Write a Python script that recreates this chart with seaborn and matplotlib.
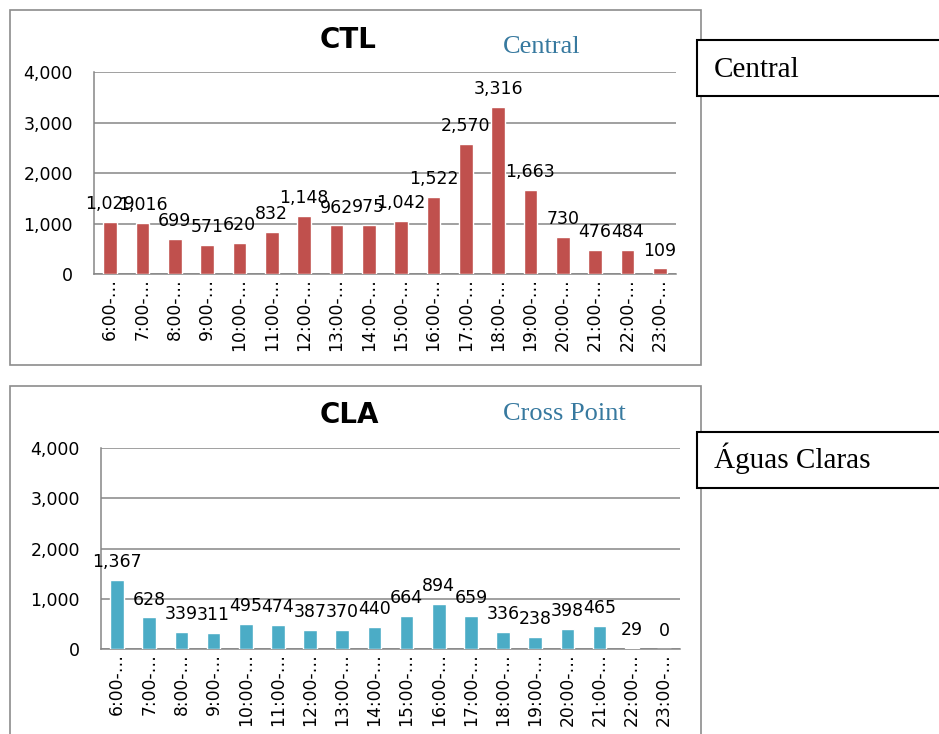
import matplotlib
matplotlib.use("Agg")
import matplotlib.pyplot as plt
import numpy as np
import pandas as pd
import seaborn as sns
from matplotlib.patches import Rectangle
from matplotlib.ticker import FuncFormatter

# Hourly trip counts per station
hours = ["6:00", "7:00", "8:00", "9:00", "10:00", "11:00", "12:00", "13:00", "14:00",
         "15:00", "16:00", "17:00", "18:00", "19:00", "20:00", "21:00", "22:00", "23:00"]
hour_labels = [h + "-…" for h in hours]
ctl_trips = [1029, 1016, 699, 571, 620, 832, 1148, 962, 975, 1042, 1522, 2570, 3316,
             1663, 730, 476, 484, 109]
cla_trips = [1367, 628, 339, 311, 495, 474, 387, 370, 440, 664, 894, 659, 336, 238,
             398, 465, 29, 0]
y_ticks = [0, 1000, 2000, 3000, 4000]

sns.set_theme(style="white")
plt.rcParams["font.family"] = ["DejaVu Sans"]
plt.rcParams["text.color"] = "black"
plt.rcParams["xtick.color"] = "black"
plt.rcParams["ytick.color"] = "black"

W, H = 939, 734
fig = plt.figure(figsize=(W / 100, H / 100), dpi=100)
fig.patch.set_facecolor("white")

GRID = "#868686"
TEAL = "#37799F"


def rect(x0, y0, x1, y1):
    return [x0 / W, 1 - y1 / H, (x1 - x0) / W, (y1 - y0) / H]


def station_chart(box, values, color):
    ax = fig.add_axes(rect(*box))
    df = pd.DataFrame({"hour": hour_labels, "trips": values})
    sns.barplot(data=df, x="hour", y="trips", color=color, saturation=1,
                width=0.42, ax=ax, zorder=3)
    ax.set_xlim(-0.5, len(hours) - 0.5)
    ax.set_ylim(0, 4000)
    ax.set_xlabel("")
    ax.set_ylabel("")
    ax.set_yticks(y_ticks)
    ax.yaxis.set_major_formatter(FuncFormatter(lambda v, _: f"{int(v):,}"))
    ax.yaxis.grid(True, color=GRID, lw=1.1)
    ax.set_axisbelow(True)
    for s in ("top", "right"):
        ax.spines[s].set_visible(False)
    for s in ("left", "bottom"):
        ax.spines[s].set_color(GRID)
        ax.spines[s].set_linewidth(1.1)
    ax.set_xticks(range(len(hours)))
    ax.set_xticklabels(hour_labels, rotation=90, fontsize=12.3, va="top", ha="center",
                       color="black")
    ax.set_xticks(np.arange(-0.5, len(hours), 1), minor=True)
    ax.tick_params(axis="x", which="major", length=0, pad=3, labelcolor="black")
    ax.tick_params(axis="x", which="minor", length=4, width=1.1, color=GRID)
    ax.tick_params(axis="y", length=3.6, width=1.1, color=GRID, pad=11.5,
                   labelsize=12.5, labelcolor="black")
    for i, v in enumerate(values):
        ax.annotate(f"{v:,}", (i, v), xytext=(0, 9.3), textcoords="offset points",
                    ha="center", va="baseline", fontsize=12.5, color="black", zorder=5)
    return ax


# Panel frames
fig.patches.append(Rectangle((10 / W, 1 - 365 / H), 691 / W, 355 / H,
                             transform=fig.transFigure, fill=False,
                             edgecolor="#8c8c8c", lw=1.2))
fig.patches.append(Rectangle((10 / W, -0.02), 691 / W, (1 - 386 / H) + 0.02,
                             transform=fig.transFigure, fill=False,
                             edgecolor="#8c8c8c", lw=1.2))

station_chart((94, 72, 676, 274), ctl_trips, "#C0504D")
station_chart((101, 448, 680, 649), cla_trips, "#4BACC6")

# Titles
fig.text(348 / W, 1 - 48 / H, "CTL", ha="center", va="baseline",
         fontsize=20, fontweight="bold", color="black")
fig.text(503 / W, 1 - 53 / H, "Central", ha="left", va="baseline",
         family="Liberation Serif", fontsize=19, color=TEAL)
fig.text(349 / W, 1 - 423 / H, "CLA", ha="center", va="baseline",
         fontsize=20, fontweight="bold", color="black")
fig.text(503 / W, 1 - 420 / H, "Cross Point", ha="left", va="baseline",
         family="Liberation Serif", fontsize=19, color=TEAL)

# Side labels
for y0, y1, label, base in ((40, 96, "Central", 77), (432, 488, "Águas Claras", 468)):
    fig.patches.append(Rectangle((697 / W, 1 - y1 / H), 260 / W, (y1 - y0) / H,
                                 transform=fig.transFigure, facecolor="white",
                                 edgecolor="black", lw=1.5, zorder=4))
    fig.text(714 / W, 1 - base / H, label, ha="left", va="baseline",
             family="Liberation Serif", fontsize=21, color="black", zorder=5)

fig.savefig("out.png", dpi=100)
